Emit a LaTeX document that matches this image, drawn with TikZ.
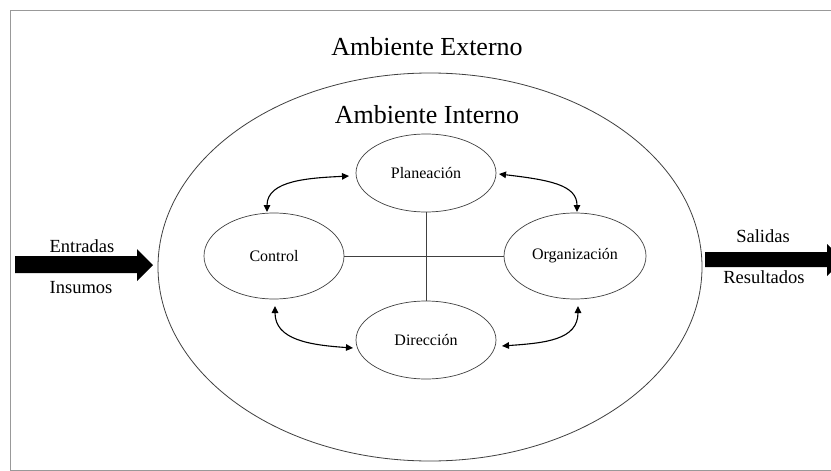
\documentclass[tikz,border=0pt]{standalone}
\usepackage{fontspec}
\setmainfont{Liberation Serif}
\usetikzlibrary{shapes.geometric,arrows.meta}
\begin{document}
\begin{tikzpicture}[x=1pt,y=-1pt,
  func/.style={ellipse,draw=black!75,line width=0.7pt,minimum width=140pt,minimum height=78pt,inner sep=0pt,font=\fontsize{16}{18}\selectfont},
  link/.style={draw=black!75,line width=0.6pt},
  twoway/.style={draw=black,line width=1.1pt,{Triangle[length=7pt,width=6.5pt]}-{Triangle[length=7pt,width=6.5pt]}},
  fat/.style={fill=black},
  side/.style={font=\fontsize{18.5}{20}\selectfont},
  title/.style={font=\fontsize{26}{28}\selectfont}]
\useasboundingbox (0,0) rectangle (831,471);
\fill[white] (0,0) rectangle (831,471);
% page frame
\draw[black!40,line width=0.8pt] (831,10) -- (10,10) -- (10,470) -- (831,470);
% outer ellipse
\node[ellipse,draw=black!75,line width=0.8pt,minimum width=544pt,minimum height=388pt,inner sep=0pt] (env) at (430,267) {};
\node[title] (ext) at (427,47) {Ambiente Externo};
\node[title] (int) at (427,115) {Ambiente Interno};
% functions
\node[func] (plan) at (426,173) {Planeación};
\node[func,minimum height=86pt] (ctrl) at (274,256) {Control};
\node[func,minimum height=86pt,minimum width=142pt] (org) at (575,256) {Organización};
\node[func] (dir) at (426,340) {Dirección};
% cross
\draw[link] (plan.south) -- (dir.north);
\draw[link] (ctrl.east) -- (org.west);
% curved double arrows
\coordinate (pl) at (349,176);
\coordinate (pr) at (499,174);
\coordinate (dl) at (353,348);
\coordinate (dr) at (502,346);
\coordinate (ct) at (267,212);
\coordinate (cb) at (275,306);
\coordinate (ot) at (577,212);
\coordinate (ob) at (578,306);
\draw[twoway] (ct) .. controls (267,180) and (310,178) .. (pl);
\draw[twoway] (pr) .. controls (550,180) and (577,185) .. (ot);
\draw[twoway] (cb) .. controls (275,340) and (310,345) .. (dl);
\draw[twoway] (ob) .. controls (578,340) and (545,343) .. (dr);
% input arrow
\fill[fat] (15,256) -- (137,256) -- (137,249) -- (153,265) -- (137,281) -- (137,273) -- (15,273) -- cycle;
\node[side] (ent) at (82,246) {Entradas};
\node[side] (ins) at (81,288) {Insumos};
% output arrow
\fill[fat] (705,252) -- (827,252) -- (827,244) -- (843,260) -- (827,276) -- (827,267) -- (705,267) -- cycle;
\node[side] (sal) at (763,236) {Salidas};
\node[side] (res) at (764,277) {Resultados};
\end{tikzpicture}
\end{document}
